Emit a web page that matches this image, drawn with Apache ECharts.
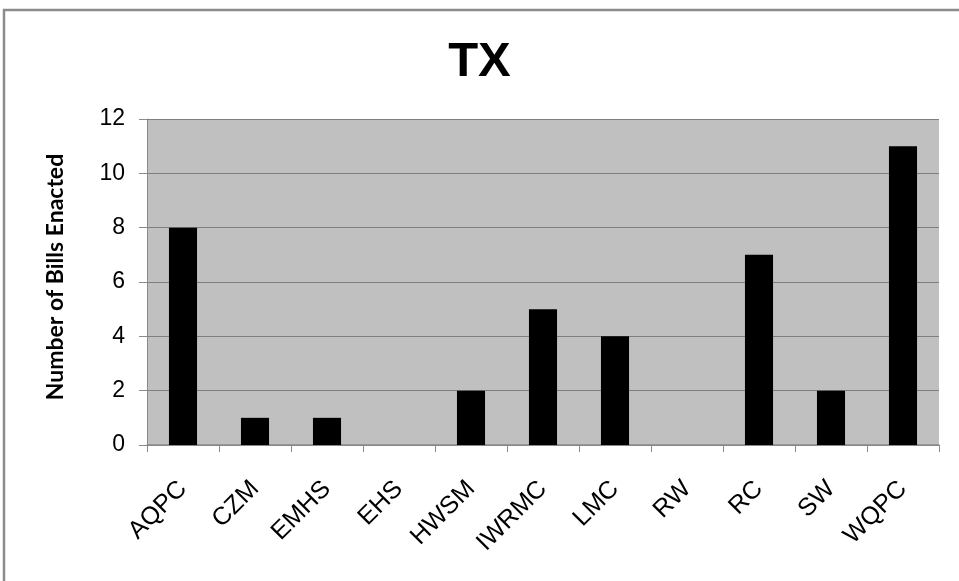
<!DOCTYPE html>
<html><head><meta charset="utf-8">
<script src="https://cdn.jsdelivr.net/npm/echarts@6/dist/echarts.min.js"></script>
<style>html,body{margin:0;padding:0;background:#fff}#c{width:959px;height:581px}</style>
</head><body><div id="c"></div>
<script>
const categories = ['AQPC','CZM','EMHS','EHS','HWSM','IWRMC','LMC','RW','RC','SW','WQPC'];
const billsEnacted = [8,1,1,0,2,5,4,0,7,2,11];
const yTicks = {min:0, max:12, interval:2};
const titleText = 'TX';
const yAxisName = 'Number of Bills Enacted';

const chart = echarts.init(document.getElementById('c'));
chart.setOption({
  animation:false,
  backgroundColor:'#ffffff',
  title:{text:titleText,left:'center',top:33,
    textStyle:{fontFamily:'"Liberation Sans",Arial,sans-serif',fontSize:49,fontWeight:'bold',color:'#000'}},
  graphic:[{type:'rect',shape:{x:4,y:10,width:1200,height:1200},
    style:{fill:'none',stroke:'#8c8c8c',lineWidth:2.5},silent:true,z:-1}],
  grid:{left:147,right:20,top:119,bottom:136,show:true,backgroundColor:'#c0c0c0',borderWidth:0},
  xAxis:{type:'category',data:categories,
    axisLine:{show:true,lineStyle:{color:'#8a8a8a',width:1.5}},
    axisTick:{show:true,length:7,alignWithLabel:false,lineStyle:{color:'#8a8a8a'}},
    axisLabel:{rotate:45,margin:40,interval:0,fontFamily:'"Liberation Sans",Arial,sans-serif',fontSize:25,color:'#000'}},
  yAxis:{type:'value',min:yTicks.min,max:yTicks.max,interval:yTicks.interval,
    name:yAxisName,nameLocation:'middle',nameGap:80,nameRotate:90,
    nameTextStyle:{fontFamily:'Lato,"Liberation Sans",sans-serif',fontSize:23,fontWeight:'bold',color:'#000',padding:[0,0,0,10]},
    axisLine:{show:true,lineStyle:{color:'#8a8a8a',width:1}},
    axisTick:{show:true,length:8,lineStyle:{color:'#8a8a8a'}},
    axisLabel:{margin:22,fontFamily:'"Liberation Sans",Arial,sans-serif',fontSize:23,color:'#000'},
    splitLine:{show:true,lineStyle:{color:'#7f7f7f',width:1}}},
  series:[{type:'bar',data:billsEnacted,barWidth:'39%',
    itemStyle:{color:'#000'}}]
});
</script></body></html>
